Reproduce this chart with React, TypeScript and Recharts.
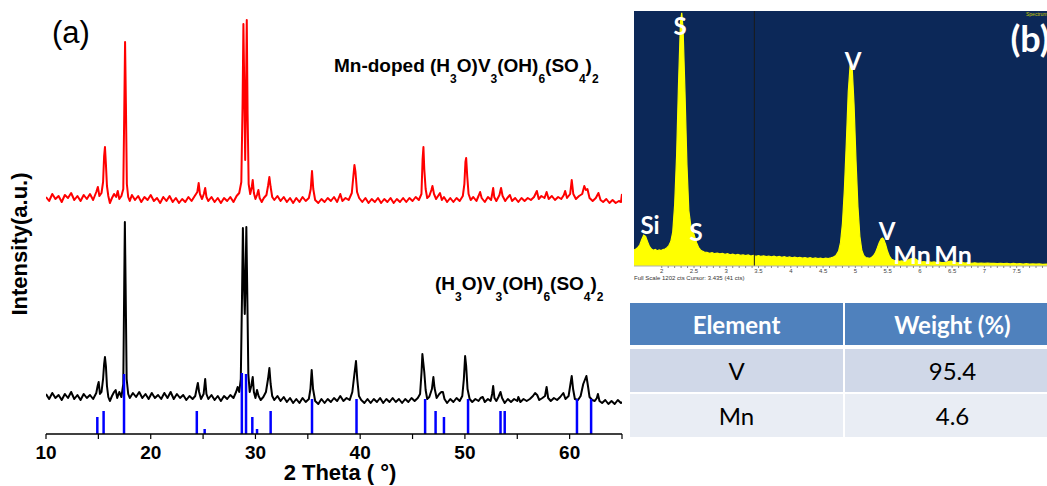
import { ComposedChart, Line, XAxis, YAxis, ReferenceLine, AreaChart, Area } from "recharts";

// panel (a): XRD patterns, 2theta vs intensity (a.u., offset stacked)
const xrdTicks = [10, 15, 20, 25, 30, 35, 40, 45, 50, 55, 60, 65];
const frameTicks = [28, 120, 212, 303, 395];

const mnDoped: [number, number][] = [
  [10.0, 237], [10.3, 233], [10.6, 240], [10.9, 235], [11.2, 238], [11.5, 232], [11.8, 239], [12.1, 236],
  [12.4, 241], [12.7, 234], [13.0, 238], [13.3, 233], [13.6, 239], [13.9, 235], [14.2, 240], [14.5, 234],
  [14.8, 242], [14.95, 247], [15.1, 238], [15.3, 241], [15.45, 252], [15.55, 278], [15.63, 287], [15.72, 270],
  [15.82, 248], [15.95, 238], [16.1, 231], [16.3, 236], [16.5, 240], [16.7, 237], [16.85, 243], [17.0, 235],
  [17.2, 238], [17.38, 245], [17.47, 320], [17.55, 392], [17.63, 330], [17.72, 250], [17.85, 237], [18.0, 233],
  [18.2, 239], [18.5, 234], [18.8, 238], [19.1, 232], [19.4, 237], [19.7, 234], [20.0, 239], [20.3, 233],
  [20.6, 236], [20.9, 231], [21.2, 237], [21.5, 233], [21.8, 238], [22.1, 232], [22.4, 236], [22.7, 231],
  [23.0, 235], [23.3, 232], [23.6, 237], [23.9, 233], [24.2, 238], [24.45, 242], [24.58, 251], [24.7, 240],
  [24.9, 235], [25.07, 240], [25.2, 246], [25.32, 237], [25.5, 233], [25.8, 237], [26.1, 232], [26.4, 236],
  [26.7, 231], [27.0, 236], [27.3, 233], [27.6, 237], [27.9, 232], [28.2, 238], [28.45, 241], [28.65, 252],
  [28.77, 330], [28.85, 410], [28.95, 330], [29.02, 274], [29.1, 340], [29.17, 414], [29.25, 320], [29.35, 250],
  [29.5, 240], [29.65, 247], [29.74, 254], [29.85, 241], [30.0, 235], [30.15, 239], [30.28, 244], [30.4, 236],
  [30.6, 232], [30.8, 236], [31.05, 239], [31.2, 248], [31.33, 257], [31.45, 247], [31.6, 237], [31.8, 234],
  [32.1, 238], [32.4, 233], [32.7, 237], [33.0, 232], [33.3, 236], [33.6, 231], [33.9, 236], [34.2, 232],
  [34.5, 237], [34.8, 233], [35.1, 236], [35.28, 245], [35.4, 263], [35.52, 245], [35.7, 234], [36.0, 231],
  [36.3, 235], [36.6, 232], [36.9, 236], [37.2, 233], [37.5, 237], [37.8, 232], [38.1, 240], [38.3, 233],
  [38.6, 236], [38.9, 234], [39.2, 241], [39.35, 258], [39.45, 269], [39.55, 262], [39.7, 242], [39.9, 236],
  [40.2, 232], [40.5, 236], [40.8, 231], [41.1, 235], [41.4, 232], [41.7, 236], [42.0, 231], [42.3, 235],
  [42.6, 232], [42.9, 236], [43.2, 231], [43.5, 235], [43.8, 232], [44.1, 236], [44.4, 232], [44.7, 236],
  [45.0, 233], [45.3, 237], [45.6, 234], [45.85, 240], [45.96, 275], [46.04, 287], [46.12, 265], [46.25, 245],
  [46.4, 236], [46.6, 238], [46.8, 244], [46.9, 248], [47.05, 240], [47.25, 235], [47.5, 239], [47.62, 241],
  [47.8, 234], [48.0, 237], [48.3, 232], [48.6, 236], [48.9, 232], [49.2, 236], [49.5, 233], [49.8, 238],
  [49.95, 250], [50.05, 272], [50.12, 276], [50.22, 258], [50.35, 240], [50.55, 234], [50.8, 237], [51.1, 233],
  [51.3, 238], [51.45, 242], [51.6, 236], [51.9, 232], [52.2, 237], [52.5, 234], [52.62, 241], [52.7, 246],
  [52.8, 237], [53.0, 233], [53.3, 239], [53.45, 246], [53.6, 238], [53.85, 233], [54.05, 236], [54.3, 239],
  [54.5, 233], [54.8, 236], [55.1, 232], [55.4, 236], [55.7, 233], [56.0, 236], [56.3, 234], [56.6, 237],
  [56.87, 243], [57.05, 235], [57.3, 238], [57.6, 236], [57.8, 242], [58.0, 235], [58.3, 238], [58.6, 234],
  [58.9, 237], [59.2, 235], [59.45, 239], [59.57, 243], [59.75, 236], [60.05, 240], [60.2, 254], [60.35, 240],
  [60.6, 235], [60.9, 238], [61.2, 240], [61.4, 248], [61.55, 244], [61.7, 245], [61.9, 236], [62.2, 233],
  [62.5, 236], [62.75, 241], [62.95, 234], [63.2, 232], [63.5, 235], [63.8, 231], [64.1, 234], [64.4, 231],
  [64.7, 233], [64.9, 232], [65.0, 240],
];

const pristine: [number, number][] = [
  [10.0, 40], [10.3, 35], [10.6, 41], [10.9, 36], [11.2, 39], [11.5, 34], [11.8, 40], [12.1, 36],
  [12.4, 42], [12.7, 35], [13.0, 39], [13.3, 34], [13.6, 40], [13.9, 36], [14.2, 39], [14.5, 35],
  [14.8, 41], [14.93, 48], [15.03, 52], [15.15, 40], [15.3, 42], [15.45, 55], [15.55, 70], [15.63, 77],
  [15.72, 68], [15.82, 48], [15.95, 37], [16.1, 33], [16.3, 38], [16.5, 42], [16.65, 44], [16.8, 36],
  [17.0, 42], [17.2, 37], [17.38, 50], [17.47, 150], [17.53, 212], [17.6, 150], [17.7, 55], [17.85, 40],
  [18.0, 36], [18.3, 41], [18.6, 37], [18.9, 42], [19.2, 36], [19.5, 40], [19.8, 35], [20.1, 41],
  [20.4, 36], [20.7, 39], [21.0, 35], [21.3, 41], [21.6, 36], [21.9, 42], [22.2, 35], [22.5, 40],
  [22.8, 36], [23.1, 39], [23.4, 34], [23.7, 38], [24.0, 35], [24.25, 38], [24.4, 46], [24.5, 51],
  [24.62, 42], [24.8, 35], [25.05, 40], [25.2, 55], [25.32, 40], [25.5, 35], [25.8, 39], [26.1, 34],
  [26.4, 38], [26.7, 33], [27.0, 38], [27.3, 35], [27.6, 39], [27.9, 36], [28.15, 42], [28.3, 47],
  [28.45, 42], [28.6, 55], [28.72, 140], [28.8, 206], [28.9, 150], [28.98, 120], [29.05, 150], [29.13, 207],
  [29.22, 140], [29.32, 60], [29.45, 42], [29.6, 48], [29.74, 57], [29.85, 42], [30.0, 36], [30.15, 44],
  [30.3, 38], [30.5, 34], [30.75, 37], [31.0, 42], [31.2, 55], [31.33, 66], [31.45, 50], [31.6, 38],
  [31.8, 34], [32.1, 38], [32.4, 33], [32.7, 37], [33.0, 32], [33.3, 36], [33.6, 31], [33.9, 35],
  [34.2, 31], [34.5, 36], [34.8, 32], [35.1, 35], [35.25, 45], [35.37, 64], [35.5, 45], [35.7, 33],
  [36.0, 30], [36.3, 35], [36.6, 31], [36.9, 35], [37.2, 32], [37.5, 36], [37.8, 33], [38.1, 38],
  [38.4, 33], [38.7, 36], [39.0, 34], [39.25, 42], [39.45, 60], [39.6, 73], [39.72, 55], [39.88, 38],
  [40.1, 34], [40.4, 31], [40.7, 35], [41.0, 31], [41.3, 35], [41.6, 32], [41.9, 36], [42.2, 31],
  [42.5, 35], [42.8, 32], [43.1, 36], [43.4, 32], [43.7, 35], [44.0, 31], [44.3, 35], [44.6, 32],
  [44.9, 36], [45.2, 33], [45.5, 36], [45.72, 40], [45.86, 62], [45.94, 80], [46.02, 72], [46.12, 62],
  [46.25, 44], [46.4, 35], [46.6, 37], [46.85, 45], [46.99, 57], [47.1, 46], [47.3, 36], [47.55, 40],
  [47.75, 42], [47.9, 42], [48.05, 35], [48.3, 31], [48.6, 35], [48.9, 32], [49.2, 36], [49.5, 33],
  [49.75, 38], [49.9, 55], [50.02, 78], [50.12, 68], [50.25, 45], [50.45, 35], [50.7, 32], [51.0, 35],
  [51.3, 33], [51.5, 36], [51.7, 37], [51.9, 32], [52.2, 35], [52.45, 33], [52.6, 40], [52.7, 48],
  [52.82, 36], [53.0, 33], [53.2, 37], [53.4, 42], [53.55, 36], [53.8, 31], [54.1, 35], [54.4, 32],
  [54.7, 35], [55.0, 33], [55.1, 37], [55.3, 32], [55.6, 35], [55.9, 33], [56.2, 35], [56.5, 38],
  [56.7, 41], [56.9, 39], [57.1, 34], [57.4, 36], [57.65, 38], [57.8, 47], [57.95, 36], [58.2, 33],
  [58.5, 36], [58.8, 34], [59.1, 37], [59.4, 41], [59.6, 35], [59.9, 38], [60.05, 48], [60.2, 58],
  [60.33, 45], [60.5, 35], [60.8, 34], [61.05, 38], [61.3, 50], [61.45, 54], [61.6, 58], [61.75, 48],
  [61.9, 37], [62.15, 34], [62.4, 33], [62.6, 36], [62.7, 40], [62.85, 33], [63.1, 31], [63.4, 34],
  [63.7, 30], [64.0, 33], [64.3, 30], [64.6, 34], [64.9, 31], [65.0, 32],
];

// reference pattern sticks: [2theta, relative height]
const refSticks: [number, number][] = [
  [14.9, 17], [15.5, 23], [17.45, 60], [24.4, 23], [25.15, 5], [28.7, 61], [29.1, 60], [29.7, 17],
  [30.15, 5], [31.45, 23], [35.4, 35], [39.65, 35], [46.2, 35], [47.2, 23], [48.0, 17], [50.3, 35],
  [53.4, 23], [53.8, 23], [60.7, 35], [62.05, 35],
];

// panel (b): EDS spectrum, keV vs counts
const edsSpectrum: [number, number][] = [
  [1.57, 76], [1.6, 80], [1.63, 88], [1.66, 100], [1.69, 125], [1.72, 146], [1.75, 140], [1.78, 115],
  [1.81, 92], [1.84, 80], [1.87, 74], [1.9, 78], [1.93, 72], [1.96, 76], [1.99, 73], [2.02, 78],
  [2.05, 80], [2.08, 86], [2.11, 96], [2.14, 115], [2.17, 160], [2.2, 290], [2.23, 520], [2.26, 860],
  [2.29, 1150], [2.31, 1193], [2.33, 1120], [2.36, 820], [2.39, 480], [2.42, 260], [2.45, 190], [2.48, 170],
  [2.51, 140], [2.54, 110], [2.57, 88], [2.6, 76], [2.63, 70], [2.66, 66], [2.7, 64], [2.74, 60],
  [2.78, 63], [2.82, 58], [2.86, 61], [2.9, 57], [2.94, 60], [2.98, 55], [3.02, 58], [3.06, 53],
  [3.1, 56], [3.14, 52], [3.18, 55], [3.22, 50], [3.26, 53], [3.3, 49], [3.34, 52], [3.38, 47],
  [3.42, 50], [3.46, 46], [3.5, 49], [3.54, 45], [3.58, 48], [3.62, 44], [3.66, 47], [3.7, 43],
  [3.74, 46], [3.78, 42], [3.82, 45], [3.86, 41], [3.9, 44], [3.94, 40], [3.98, 43], [4.02, 39],
  [4.06, 42], [4.1, 38], [4.14, 41], [4.18, 37], [4.22, 40], [4.26, 36], [4.3, 39], [4.34, 35],
  [4.38, 38], [4.42, 35], [4.46, 37], [4.5, 34], [4.54, 37], [4.58, 35], [4.62, 38], [4.66, 42],
  [4.7, 50], [4.74, 70], [4.77, 110], [4.8, 200], [4.83, 360], [4.86, 580], [4.89, 820], [4.92, 950],
  [4.93, 962], [4.95, 940], [4.98, 760], [5.01, 500], [5.04, 280], [5.07, 140], [5.1, 75], [5.13, 50],
  [5.16, 40], [5.19, 38], [5.22, 36], [5.25, 40], [5.28, 48], [5.31, 62], [5.34, 85], [5.37, 110],
  [5.4, 128], [5.42, 132], [5.44, 126], [5.47, 100], [5.5, 68], [5.53, 45], [5.56, 32], [5.6, 27],
  [5.64, 25], [5.68, 22], [5.72, 24], [5.76, 21], [5.8, 26], [5.84, 32], [5.88, 36], [5.91, 37],
  [5.94, 32], [5.98, 24], [6.02, 19], [6.06, 21], [6.1, 18], [6.14, 20], [6.18, 17], [6.22, 19],
  [6.26, 16], [6.3, 18], [6.34, 16], [6.38, 17], [6.42, 19], [6.46, 22], [6.49, 23], [6.52, 20],
  [6.56, 16], [6.6, 15], [6.65, 17], [6.7, 14], [6.75, 16], [6.8, 13], [6.85, 15], [6.9, 13],
  [6.95, 14], [7.0, 12], [7.05, 14], [7.1, 12], [7.15, 13], [7.2, 11], [7.25, 13], [7.3, 11],
  [7.35, 12], [7.4, 10], [7.45, 12], [7.5, 10], [7.55, 11], [7.6, 9], [7.65, 11], [7.7, 9],
  [7.75, 10], [7.8, 9], [7.85, 10], [7.9, 8], [7.97, 9],
];
const edsTicks = [2, 2.5, 3, 3.5, 4, 4.5, 5, 5.5, 6, 6.5, 7, 7.5];
const edsCursor = 3.435;

const tableElements = ["V", "Mn"];
const tableWeights = ["95.4", "4.6"];

const toXY = (arr: [number, number][]) => arr.map(([x, y]) => ({ x, y }));
const edsMinor = edsTicks.flatMap((t) => [t, t + 0.1, t + 0.2, t + 0.3, t + 0.4]);

const arial = "'Liberation Sans', Arial, sans-serif";
const calibri = "Lato, 'Open Sans', sans-serif";

function Formula({ prefix }: { prefix?: string }) {
  const sub = { fontSize: 12, verticalAlign: -11 } as const;
  return (
    <>
      {prefix}(H<span style={sub}>3</span>O)V<span style={sub}>3</span>(OH)<span style={sub}>6</span>(SO
      <span style={sub}>4</span>)<span style={sub}>2</span>
    </>
  );
}

function EdsLabel({ text, x, y, size = 24 }: { text: string; x: number; y: number; size?: number }) {
  return (
    <div
      style={{
        position: "absolute",
        left: x,
        top: y,
        transform: "translate(-50%, -50%)",
        color: "#fff",
        fontFamily: calibri,
        fontWeight: 700,
        fontSize: size,
        lineHeight: 1,
        whiteSpace: "nowrap",
      }}
    >
      {text}
    </div>
  );
}

const cell = {
  position: "absolute",
  fontFamily: calibri,
  fontSize: 24,
  display: "flex",
  alignItems: "center",
  justifyContent: "center",
} as const;

export default function App() {
  const tickStyle = { fontSize: 19, fontWeight: 700, fill: "#000", fontFamily: arial };
  const emptyTick = () => <g />;
  const frameLine = { stroke: "#000", strokeWidth: 1.5 };
  const frameTick = { stroke: "#000", strokeWidth: 1.2 };

  return (
    <div
      style={{
        position: "absolute",
        left: 0,
        top: 0,
        width: 1047,
        height: 486,
        overflow: "hidden",
        background: "#fff",
        fontFamily: arial,
      }}
    >
      {/* (a) XRD */}
      <div style={{ position: "absolute", left: 0, top: 0 }}>
        <ComposedChart width={640} height={486} margin={{ top: 11, right: 18, left: 46, bottom: 12 }}>
          <XAxis
            xAxisId="b"
            type="number"
            dataKey="x"
            domain={[10, 65]}
            ticks={xrdTicks}
            interval={0}
            height={40}
            allowDataOverflow
            tickFormatter={(v) => (v % 10 === 0 ? String(v) : "")}
            tick={tickStyle}
            tickSize={5}
            tickMargin={7}
            axisLine={frameLine}
            tickLine={frameTick}
          />
          <XAxis
            xAxisId="t"
            orientation="top"
            type="number"
            dataKey="x"
            domain={[10, 65]}
            ticks={xrdTicks}
            interval={0}
            height={0}
            allowDataOverflow
            tick={emptyTick}
            tickSize={4}
            axisLine={frameLine}
            tickLine={frameTick}
          />
          <YAxis
            yAxisId="l"
            type="number"
            domain={[0, 423]}
            ticks={frameTicks}
            interval={0}
            width={0}
            allowDataOverflow
            tick={emptyTick}
            tickSize={4}
            axisLine={frameLine}
            tickLine={frameTick}
          />
          <YAxis
            yAxisId="r"
            orientation="right"
            type="number"
            domain={[0, 423]}
            ticks={frameTicks}
            interval={0}
            width={0}
            allowDataOverflow
            tick={emptyTick}
            tickSize={4}
            axisLine={frameLine}
            tickLine={frameTick}
          />
          <Line
            xAxisId="b"
            yAxisId="l"
            data={toXY(mnDoped)}
            dataKey="y"
            type="linear"
            stroke="#ff0000"
            strokeWidth={2}
            strokeLinejoin="round"
            dot={false}
            activeDot={false}
            isAnimationActive={false}
          />
          <Line
            xAxisId="b"
            yAxisId="l"
            data={toXY(pristine)}
            dataKey="y"
            type="linear"
            stroke="#000000"
            strokeWidth={2}
            strokeLinejoin="round"
            dot={false}
            activeDot={false}
            isAnimationActive={false}
          />
          {refSticks.map(([x, h]) => (
            <ReferenceLine
              key={x}
              xAxisId="b"
              yAxisId="l"
              segment={[
                { x, y: 0 },
                { x, y: h },
              ]}
              stroke="#0000ff"
              strokeWidth={2.5}
            />
          ))}
        </ComposedChart>
      </div>

      <div style={{ position: "absolute", left: 52, top: 17, fontSize: 31, lineHeight: 1 }}>(a)</div>
      <div
        style={{ position: "absolute", left: 334, top: 56, fontSize: 19, fontWeight: 700, lineHeight: 1, whiteSpace: "nowrap" }}
      >
        <Formula prefix="Mn-doped " />
      </div>
      <div
        style={{ position: "absolute", left: 435, top: 274, fontSize: 19, fontWeight: 700, lineHeight: 1, whiteSpace: "nowrap" }}
      >
        <Formula />
      </div>
      <div
        style={{
          position: "absolute",
          left: 20,
          top: 244,
          transform: "translate(-50%, -50%) rotate(-90deg)",
          fontSize: 22,
          fontWeight: 700,
          lineHeight: 1,
          whiteSpace: "nowrap",
        }}
      >
        Intensity(a.u.)
      </div>
      <div
        style={{
          position: "absolute",
          left: 240,
          width: 200,
          top: 462,
          textAlign: "center",
          fontSize: 22,
          fontWeight: 700,
          lineHeight: 1,
          whiteSpace: "nowrap",
        }}
      >
        2 Theta ( °)
      </div>

      {/* (b) EDS spectrum */}
      <div style={{ position: "absolute", left: 634, top: 11, width: 413, height: 255, background: "#0c2858" }} />
      <div style={{ position: "absolute", left: 634, top: 11 }}>
        <AreaChart width={413} height={271} data={toXY(edsSpectrum)} margin={{ top: 0, right: 0, left: 0, bottom: 0 }}>
          <XAxis
            type="number"
            dataKey="x"
            domain={[1.57, 7.97]}
            ticks={edsMinor}
            interval={0}
            height={16}
            allowDataOverflow
            tickFormatter={(v) => (Math.abs(v * 2 - Math.round(v * 2)) < 1e-6 ? String(v) : "")}
            tick={{ fontSize: 6, fill: "#444", fontFamily: arial }}
            tickSize={2}
            tickMargin={1}
            axisLine={{ stroke: "#b0b0b0" }}
            tickLine={{ stroke: "#888" }}
          />
          <YAxis hide type="number" domain={[0, 1202]} allowDataOverflow />
          <ReferenceLine x={edsCursor} stroke="#1b1b1b" strokeWidth={1} />
          <Area
            dataKey="y"
            type="linear"
            stroke="#ffff00"
            strokeWidth={1.2}
            fill="#ffff00"
            fillOpacity={1}
            dot={false}
            activeDot={false}
            isAnimationActive={false}
          />
        </AreaChart>
      </div>
      <div style={{ position: "absolute", left: 634, top: 275, fontSize: 6, color: "#333", whiteSpace: "nowrap" }}>
        Full Scale 1202 cts Cursor: 3.435 (41 cts)
      </div>
      <div style={{ position: "absolute", left: 1026, top: 11, fontSize: 5, color: "#c8c800", whiteSpace: "nowrap" }}>
        Spectrum
      </div>
      <EdsLabel text="S" x={680} y={26} />
      <EdsLabel text="V" x={853} y={61} />
      <EdsLabel text="Si" x={650} y={225} />
      <EdsLabel text="S" x={696} y={232} />
      <EdsLabel text="V" x={887} y={231} />
      <EdsLabel text="Mn" x={912} y={254} size={25} />
      <EdsLabel text="Mn" x={953} y={254} size={25} />
      <EdsLabel text="(b)" x={1030} y={38} size={36} />

      {/* EDS table */}
      <div style={{ ...cell, left: 630, top: 303, width: 213, height: 42, background: "#4f81bd", color: "#fff", fontWeight: 700 }}>
        Element
      </div>
      <div style={{ ...cell, left: 845, top: 303, width: 215, height: 42, background: "#4f81bd", color: "#fff", fontWeight: 700 }}>
        Weight (%)
      </div>
      {tableElements.map((el, i) => (
        <div key={el}>
          <div
            style={{ ...cell, left: 630, top: 349 + i * 45, width: 213, height: 43, background: i === 0 ? "#d0d8e8" : "#e9edf4" }}
          >
            {el}
          </div>
          <div
            style={{ ...cell, left: 845, top: 349 + i * 45, width: 215, height: 43, background: i === 0 ? "#d0d8e8" : "#e9edf4" }}
          >
            {tableWeights[i]}
          </div>
        </div>
      ))}
    </div>
  );
}
